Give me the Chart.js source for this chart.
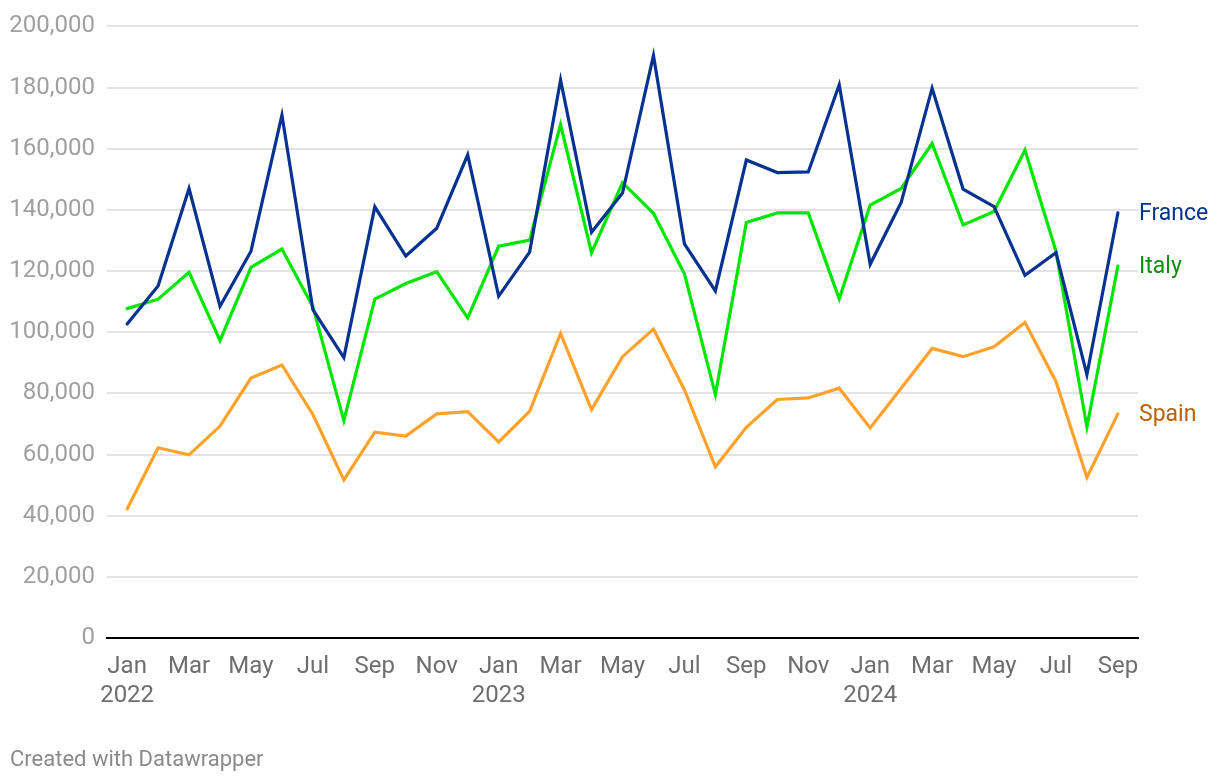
<!DOCTYPE html>
<html>
<head>
<meta charset="utf-8">
<script src="https://cdn.jsdelivr.net/npm/chart.js@4"></script>
<style>
  html, body { margin: 0; padding: 0; background: #ffffff; }
  #wrap { position: relative; width: 1220px; height: 784px; }
  #footer { position: absolute; left: 10px; top: 746px; font-family: Roboto, sans-serif; font-size: 22px; color: #8a8a8a; }
</style>
</head>
<body>
<div id="wrap">
  <canvas id="c" width="1220" height="784"></canvas>
  <div id="footer">Created with Datawrapper</div>
</div>
<script>
const months = ["Jan 2022","Feb 2022","Mar 2022","Apr 2022","May 2022","Jun 2022","Jul 2022","Aug 2022","Sep 2022","Oct 2022","Nov 2022","Dec 2022",
  "Jan 2023","Feb 2023","Mar 2023","Apr 2023","May 2023","Jun 2023","Jul 2023","Aug 2023","Sep 2023","Oct 2023","Nov 2023","Dec 2023",
  "Jan 2024","Feb 2024","Mar 2024","Apr 2024","May 2024","Jun 2024","Jul 2024","Aug 2024","Sep 2024"];

const france = [102700,115100,147000,108500,126500,171000,107400,91700,141000,124900,134000,158000,
  111800,126200,182500,132700,145500,190500,128900,113500,156300,152200,152400,180900,
  122200,142400,179800,146800,141100,118600,126000,86100,139000];

const italy = [107700,110800,119600,97300,121200,127200,108300,71100,110800,115900,119800,104700,
  128100,130100,167900,126000,148900,138900,119100,79600,135900,139000,139000,110900,
  141600,147000,161700,135100,139500,159600,126500,69000,121600];

const spain = [42200,62200,59900,69300,85000,89300,73100,51700,67300,66000,73300,74000,
  64100,74100,99600,74700,92000,101000,81200,56000,68900,78000,78500,81700,
  68700,81700,94700,92000,95200,103200,83900,52500,73300];

const seriesNames = ["France","Italy","Spain"];
const lineColors = ["#07328f","#00e600","#ffa22b"];
const labelColors = ["#07328f","#0f8f0f","#b86200"];

const yTicks = [0,20000,40000,60000,80000,100000,120000,140000,160000,180000,200000];
const xTickIdx = [0,2,4,6,8,10,12,14,16,18,20,22,24,26,28,30,32];

function xLabel(i) {
  const [m, y] = months[i].split(" ");
  return m === "Jan" ? [m, y] : m;
}

const seriesData = [france, italy, spain];
const datasets = seriesData.map((arr, s) => ({
  label: seriesNames[s],
  data: arr.map((v, i) => ({ x: i, y: v })),
  borderColor: lineColors[s],
  backgroundColor: lineColors[s],
  borderWidth: 3.2,
  pointRadius: 0,
  tension: 0,
  borderJoinStyle: 'miter',
  borderCapStyle: 'round'
}));

const endLabels = {
  id: 'endLabels',
  afterDatasetsDraw(chart) {
    const ctx = chart.ctx;
    ctx.save();
    ctx.font = '23px Roboto, sans-serif';
    ctx.textBaseline = 'middle';
    ctx.textAlign = 'left';
    chart.data.datasets.forEach((ds, s) => {
      const meta = chart.getDatasetMeta(s);
      const pt = meta.data[meta.data.length - 1];
      ctx.fillStyle = labelColors[s];
      ctx.fillText(ds.label, chart.chartArea.right + 1, pt.y + 1);
    });
    ctx.restore();
  }
};

new Chart(document.getElementById('c'), {
  type: 'line',
  data: { datasets },
  plugins: [endLabels],
  options: {
    responsive: false,
    animation: false,
    layout: { padding: { top: 23, right: 82, bottom: 0, left: 0 } },
    plugins: { legend: { display: false }, tooltip: { enabled: false } },
    scales: {
      x: {
        type: 'linear',
        min: -0.65,
        max: 32.65,
        afterBuildTicks(scale) { scale.ticks = xTickIdx.map(v => ({ value: v })); },
        afterFit(scale) { scale.height = 146; },
        grid: { display: false, drawTicks: false },
        border: { display: true, color: '#000000', width: 2 },
        ticks: {
          autoSkip: false,
          maxRotation: 0,
          padding: 14,
          color: '#6e6e6e',
          font: { family: 'Roboto, sans-serif', size: 24, lineHeight: 1.22 },
          callback: (v) => xLabel(v)
        }
      },
      y: {
        min: 0,
        max: 200000,
        afterBuildTicks(scale) { scale.ticks = yTicks.map(v => ({ value: v })); },
        afterFit(scale) { scale.width = 107; },
        border: { display: false },
        grid: {
          drawTicks: false,
          color: (c) => c.tick && c.tick.value === 0 ? 'rgba(0,0,0,0)' : '#e3e3e3',
          lineWidth: 2
        },
        ticks: {
          padding: 12,
          color: '#a0a0a0',
          font: { family: 'Roboto, sans-serif', size: 24 },
          callback: (v) => v.toLocaleString('en-US')
        }
      }
    }
  }
});
</script>
</body>
</html>
